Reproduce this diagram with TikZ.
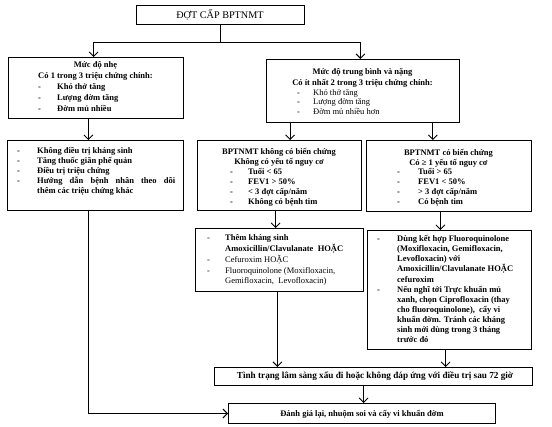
\documentclass[tikz,border=0pt]{standalone}
\usepackage{fontspec}
\setmainfont{Liberation Serif}
\usetikzlibrary{arrows.meta,calc}
\newcommand{\myfs}[1][10.5]{\fontsize{8.5}{#1}\selectfont}
\newcommand{\dsh}[1][19pt]{\makebox[#1][l]{-}}
\newcommand{\st}{\rule{0pt}{8pt}}
\begin{document}
\begin{tikzpicture}[x=1pt,y=-1pt,
  box/.style={draw, line width=1pt, anchor=north west, inner sep=0pt},
  txt/.style={inner sep=0pt, align=left, anchor=north west},
  hd/.style={inner sep=0pt, align=center, anchor=north},
  one/.style={inner sep=0pt, anchor=base},
  arr/.style={line width=0.9pt, -{Straight Barb[length=4.5pt,width=9pt]}},
  ln/.style={line width=0.9pt}]
\useasboundingbox (0,0) rectangle (552,427);
\fill[white] (0,0) rectangle (552,427);
% boxes
\node[box, minimum width=168pt, minimum height=19pt] (top) at (136,5) {};
\node[box, minimum width=175pt, minimum height=61pt] (L1) at (8,57) {};
\node[box, minimum width=193pt, minimum height=63pt] (R1) at (266,59) {};
\node[box, minimum width=176pt, minimum height=70pt] (L2) at (7,140) {};
\node[box, minimum width=164pt, minimum height=70pt] (M2) at (197,140) {};
\node[box, minimum width=165pt, minimum height=71pt] (R2) at (366,140) {};
\node[box, minimum width=168pt, minimum height=63pt] (M3) at (195,228) {};
\node[box, minimum width=164pt, minimum height=119pt] (R3) at (367,230) {};
\node[box, minimum width=318pt, minimum height=18pt] (T) at (214,367) {};
\node[box, minimum width=267pt, minimum height=20pt] (D) at (228,403) {};
% texts
\node[one, font=\fontsize{10.2}{12}\selectfont] (topt) at (220,18.5) {ĐỢT CẤP BPTNMT};
\node[hd, font={\myfs[11]\bfseries}] (L1h) at (95.5,59.5) {\st Mức độ nhẹ\\Có 1 trong 3 triệu chứng chính:};
\node[txt, font={\myfs[11]\bfseries}] (L1l) at (38,81.5) {\st\dsh Khó thở tăng\\\dsh Lượng đờm tăng\\\dsh Đờm mủ nhiều};
\node[hd, font={\myfs[11]\bfseries}] (R1h) at (362.5,66.5) {\st Mức độ trung bình và nặng\\Có ít nhất 2 trong 3 triệu chứng chính:};
\node[txt, font={\myfs[9.5]}] (R1l) at (297,87) {\st\dsh[16pt]Khó thở tăng\\\dsh[16pt]Lượng đờm tăng\\\dsh[16pt]Đờm mủ nhiều hơn};
\node[txt, font={\myfs[10.2]\bfseries}] (L2l) at (17,145) {\st\dsh[20pt]Không điều trị kháng sinh\\\dsh[20pt]Tăng thuốc giãn phế quản\\\dsh[20pt]Điều trị triệu chứng\\\dsh[20pt]\makebox[138pt][s]{Hướng dẫn bệnh nhân theo dõi}\\\hspace*{20pt}thêm các triệu chứng khác};
\node[hd, font={\myfs[10]\bfseries}] (M2h) at (279,146) {\st BPTNMT không có biến chứng\\Không có yếu tố nguy cơ};
\node[txt, font={\myfs[10]\bfseries}] (M2l) at (230,166) {\st\dsh[18pt]Tuổi < 65\\\dsh[18pt]FEV1 > 50\%\\\dsh[18pt]< 3 đợt cấp/năm\\\dsh[18pt]Không có bệnh tim};
\node[hd, font={\myfs[9.5]\bfseries}] (R2h) at (448.5,147.5) {\st BPTNMT có biến chứng\\Có ≥ 1 yếu tố nguy cơ};
\node[txt, font={\myfs[10]\bfseries}] (R2l) at (397,166) {\st\dsh[21pt]Tuổi > 65\\\dsh[21pt]FEV1 < 50\%\\\dsh[21pt]> 3 đợt cấp/năm\\\dsh[21pt]Có bệnh tim};
\node[txt, font={\myfs[10.8]}] (M3l) at (207,232.5) {\st\dsh[18pt]\textbf{Thêm kháng sinh}\\\hspace*{18pt}\textbf{Amoxicillin/Clavulanate\ \ HOẶC}\\\dsh[18pt]Cefuroxim HOẶC\\\dsh[18pt]Fluoroquinolone (Moxifloxacin,\\\hspace*{18pt}Gemifloxacin,\ \ Levofloxacin)};
\node[txt, font={\myfs[10.1]\bfseries}] (R3l) at (377,233.5) {\st\dsh[20pt]Dùng kết hợp Fluoroquinolone\\\hspace*{20pt}(Moxifloxacin, Gemifloxacin,\\\hspace*{20pt}Levofloxacin) với\\\hspace*{20pt}Amoxicillin/Clavulanate HOẶC\\\hspace*{20pt}cefuroxim\\\dsh[20pt]Nếu nghĩ tới Trực khuẩn mủ\\\hspace*{20pt}xanh, chọn Ciprofloxacin (thay\\\hspace*{20pt}cho fluoroquinolone),\ \ cấy vi\\\hspace*{20pt}khuẩn đờm. Tránh các kháng\\\hspace*{20pt}sinh mới dùng trong 3 tháng\\\hspace*{20pt}trước đó};
\node[one, font={\fontsize{9.2}{11}\selectfont\bfseries}] (Tt) at (375,379) {Tình trạng lâm sàng xấu đi hoặc không đáp ứng với điều trị sau 72 giờ};
\node[one, font={\myfs\bfseries}] (Dt) at (362,416.5) {Đánh giá lại, nhuộm soi và cấy vi khuẩn đờm};
% connector points
\coordinate (j) at ($(top.south)+(0,17)$);
\coordinate (b1) at ($(L1.north west)!0.486!(L1.north east)$);
\coordinate (b2) at ($(R1.north west)!0.487!(R1.north east)$);
\coordinate (a1) at ($(L1.south west)!0.457!(L1.south east)$);
\coordinate (a2) at ($(R1.south west)!0.124!(R1.south east)$);
\coordinate (a3) at ($(R1.south west)!0.86!(R1.south east)$);
\coordinate (a4) at ($(M2.south west)!0.476!(M2.south east)$);
\coordinate (a5) at ($(R2.south west)!0.448!(R2.south east)$);
\coordinate (a6) at ($(M3.south west)!0.488!(M3.south east)$);
\coordinate (a7) at ($(R3.south west)!0.476!(R3.south east)$);
\coordinate (a8) at ($(D.north west)!0.506!(D.north east)$);
\coordinate (a9) at ($(L2.south west)!0.46!(L2.south east)$);
% connectors
\draw[ln] (top.south) -- (j);
\draw[arr] (j) -| (b1);
\draw[arr] (j) -| (b2);
\draw[arr] (a1) -- (a1 |- L2.north);
\draw[arr] (a2) -- (a2 |- M2.north);
\draw[arr] (a3) -- (a3 |- R2.north);
\draw[arr] (a4) -- (a4 |- M3.north);
\draw[arr] (a5) -- (a5 |- R3.north);
\draw[arr] (a6) -- (a6 |- T.north);
\draw[arr] (a7) -- (a7 |- T.north);
\draw[arr] (a8 |- T.south) -- (a8);
\draw[arr] (a9) |- (D.west);
\end{tikzpicture}
\end{document}
